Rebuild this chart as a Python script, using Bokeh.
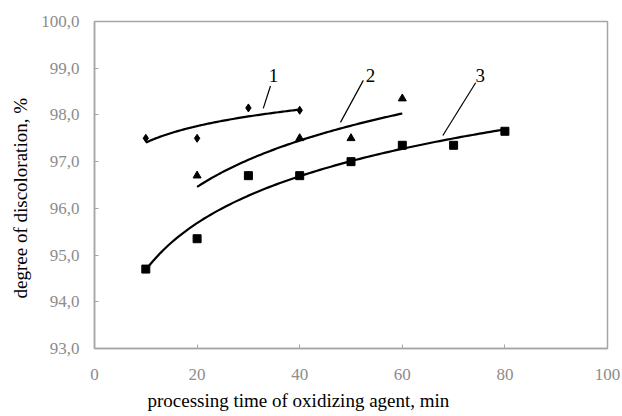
import numpy as np
from bokeh.plotting import figure
from bokeh.models import FixedTicker, Title
from bokeh.embed import file_html
from bokeh.resources import INLINE
from bokeh.core.properties import value

# ---- data ----
x1 = [10, 20, 30, 40]
y1 = [97.5, 97.5, 98.15, 98.1]

x2 = [20, 30, 40, 50, 60]
y2 = [96.7, 96.7, 97.5, 97.5, 98.35]

x3 = [10, 20, 30, 40, 50, 60, 70, 80]
y3 = [94.7, 95.35, 96.7, 96.7, 97.0, 97.35, 97.35, 97.65]

x_ticks = [0, 20, 40, 60, 80, 100]
x_tick_labels = ["0", "20", "40", "60", "80", "100"]
y_ticks = [93, 94, 95, 96, 97, 98, 99, 100]
y_tick_labels = ["93,0", "94,0", "95,0", "96,0", "97,0", "98,0", "99,0", "100,0"]

curve_names = ["1", "2", "3"]
x_title = "processing time of oxidizing agent, min"
y_title = "degree of discoloration, %"

FONT = "Liberation Serif"
GRAY = "#8c8c8c"
AXIS_GRAY = "#a6a6a6"

p = figure(width=622, height=416, x_range=(0, 100), y_range=(93, 100),
           output_backend="svg", toolbar_location=None,
           min_border_left=94, min_border_right=15, min_border_top=21, min_border_bottom=68)
p.background_fill_color = "white"
p.border_fill_color = "white"
p.outline_line_color = AXIS_GRAY
p.outline_line_width = 1.5
p.grid.visible = False

for ax in (p.xaxis[0], p.yaxis[0]):
    ax.axis_line_color = AXIS_GRAY
    ax.axis_line_width = 1.5
    ax.major_tick_line_color = AXIS_GRAY
    ax.major_tick_out = 0
    ax.major_tick_in = 4
    ax.minor_tick_line_color = None
    ax.major_label_text_font = FONT
    ax.major_label_text_font_size = "17px"
    ax.major_label_text_color = GRAY

p.xaxis.ticker = FixedTicker(ticks=x_ticks)
p.xaxis.major_label_overrides = {t: l for t, l in zip(x_ticks, x_tick_labels)}
p.xaxis.major_label_standoff = 20
p.yaxis.ticker = FixedTicker(ticks=y_ticks)
p.yaxis.major_label_overrides = {t: l for t, l in zip(y_ticks, y_tick_labels)}
p.yaxis.major_label_standoff = 15

# logarithmic trend lines fitted to each series
for xs, ys in ((x1, y1), (x2, y2), (x3, y3)):
    a, b = np.polyfit(np.log(xs), ys, 1)
    xx = np.linspace(min(xs), max(xs), 100)
    p.line(xx, a * np.log(xx) + b, line_color="black", line_width=2.2)

p.scatter(x1, y1, marker="diamond", size=8, color="black")
p.scatter(x2, y2, marker="triangle", size=8, color="black")
p.scatter(x3, y3, marker="square", size=8, color="black")

# curve labels with leader lines
lab_x = [34.9, 53.8, 75.2]
lab_y = [98.84, 98.84, 98.84]
lead_x0 = [34.3, 52.4, 74.3]
lead_y0 = [98.62, 98.74, 98.69]
lead_x1 = [32.9, 47.95, 67.9]
lead_y1 = [98.14, 97.84, 97.56]
p.segment(lead_x0, lead_y0, lead_x1, lead_y1, line_color="black", line_width=1.2)
p.text(lab_x, lab_y, text=curve_names, text_font=value(FONT), text_font_size="19px",
       text_align="center", text_baseline="middle", text_color="black")

# axis titles
p.add_layout(Title(text=x_title, align="left", offset=53, standoff=10,
                   text_font=FONT, text_font_size="19px", text_font_style="normal",
                   text_color="black"), "below")
p.add_layout(Title(text=y_title, align="left", offset=50, standoff=15,
                   text_font=FONT, text_font_size="19px", text_font_style="normal",
                   text_color="black"), "left")

open("out.html", "w").write(file_html(p, INLINE))
